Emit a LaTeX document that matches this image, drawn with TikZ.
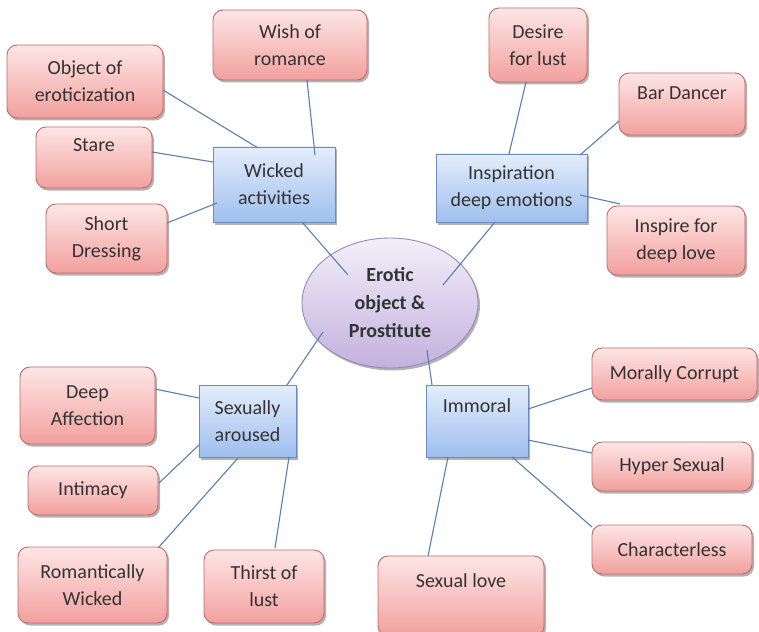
\documentclass[tikz,border=0pt]{standalone}
\usepackage{fontspec}
\setmainfont{Carlito}
\usetikzlibrary{shapes.geometric,shadows,calc}

\definecolor{pinktop}{HTML}{FDE6E5}
\definecolor{pinkbot}{HTML}{F2A09E}
\definecolor{pinkline}{HTML}{C26A68}
\definecolor{bluetop}{HTML}{E4EDFB}
\definecolor{bluebot}{HTML}{9EBFEF}
\definecolor{blueline}{HTML}{6A8CC0}
\definecolor{lavtop}{HTML}{F3EFF9}
\definecolor{lavbot}{HTML}{C3B1DE}
\definecolor{lavline}{HTML}{9A87BE}
\definecolor{linkc}{HTML}{5B7FAE}
\definecolor{txt}{HTML}{333333}

\tikzset{
  base/.style={draw, line width=0.9pt, text=txt, align=center, inner sep=2pt,
    font=\fontsize{20}{27}\selectfont,
    drop shadow={shadow xshift=2pt, shadow yshift=-2.5pt, opacity=0.3, fill=black}},
  leaf/.style={base, rectangle, rounded corners=10pt, draw=pinkline,
    top color=pinktop, bottom color=pinkbot},
  hub/.style={base, rectangle, draw=blueline, top color=bluetop, bottom color=bluebot},
  core/.style={base, ellipse, draw=lavline, top color=lavtop, bottom color=lavbot,
    font=\bfseries\fontsize{20}{28}\selectfont},
  wh/.style 2 args={minimum width=#1pt, minimum height=#2pt},
  topline/.style={text height=14pt, text depth=#1pt},
  link/.style={draw=linkc, line width=1.1pt},
}

\begin{document}
\begin{tikzpicture}[x=1pt, y=-1pt]
  \useasboundingbox (0,0) rectangle (759,631);
  \fill[white] (0,0) rectangle (759,631);

  % central ellipse
  \node[core, wh={176}{130}] (core) at (390,303) {Erotic\\object \&\\Prostitute};

  % hubs
  \node[hub, wh={122}{75}] (wick) at (274,184.5) {Wicked\\activities};
  \node[hub, wh={151}{68}] (insp) at (511.5,188) {Inspiration\\deep emotions};
  \node[hub, wh={97}{72}]  (sex)  at (247.5,421) {Sexually\\aroused};
  \node[hub, wh={102}{72}, topline=31] (immo) at (477,421) {Immoral};

  % leaves
  \node[leaf, wh={154}{70}] (wish)    at (290,45)     {Wish of\\romance};
  \node[leaf, wh={156}{73}] (obj)     at (85,81.5)    {Object of\\eroticization};
  \node[leaf, wh={116}{61}, topline=25] (stare) at (94,157.5) {Stare};
  \node[leaf, wh={121}{69}] (short)   at (106.5,238.5) {Short\\Dressing};
  \node[leaf, wh={98}{74}]  (desire)  at (538,45)     {Desire\\for lust};
  \node[leaf, wh={126}{62}, topline=23] (bar) at (682,104) {Bar Dancer};
  \node[leaf, wh={138}{69}] (inspire) at (676,240.5)  {Inspire for\\deep love};
  \node[leaf, wh={135}{77}] (deep)    at (87.5,405.5) {Deep\\Affection};
  \node[leaf, wh={130}{49}] (intim)   at (93,490.5)   {Intimacy};
  \node[leaf, wh={149}{76}] (roman)   at (92.5,585)   {Romantically\\Wicked};
  \node[leaf, wh={120}{73}] (thirst)  at (264,586.5)  {Thirst of\\lust};
  \node[leaf, wh={166}{80}, topline=31] (slove) at (461,596) {Sexual love};
  \node[leaf, wh={165}{52}] (moral)   at (674.5,374)  {Morally Corrupt};
  \node[leaf, wh={160}{49}] (hyper)   at (672,466.5)  {Hyper Sexual};
  \node[leaf, wh={160}{49}] (charl)   at (672,549.5)  {Characterless};

  % connectors
  \draw[link] ($(obj)+(78,8.5)$)      -- ($(wick)+(-16,-36.5)$);
  \draw[link] ($(wish)+(17,35)$)      -- ($(wick)+(41,-29.5)$);
  \draw[link] ($(stare)+(58,-5.5)$)   -- ($(wick)+(-61,-22.5)$);
  \draw[link] ($(short)+(60.5,-15.5)$) -- ($(wick)+(-57,18.5)$);
  \draw[link] ($(wick)+(28,37.5)$)    -- ($(core)+(-42,-28)$);

  \draw[link] ($(desire)+(-12,37)$)   -- ($(insp)+(-2.5,-34)$);
  \draw[link] ($(bar)+(-63,17)$)      -- ($(insp)+(68.5,-33)$);
  \draw[link] ($(inspire)+(-56,-36.5)$) -- ($(insp)+(68.5,7)$);
  \draw[link] ($(insp)+(-16.5,34)$)   -- ($(core)+(53,-18)$);

  \draw[link] ($(sex)+(39.5,-36)$)    -- ($(core)+(-67,29)$);
  \draw[link] ($(deep)+(67.5,-16.5)$) -- ($(sex)+(-48.5,-23)$);
  \draw[link] ($(intim)+(66,-7.5)$)   -- ($(sex)+(-48.5,24)$);
  \draw[link] ($(roman)+(66.5,-38)$)  -- ($(sex)+(-9.5,37)$);
  \draw[link] ($(thirst)+(11,-38.5)$) -- ($(sex)+(41.5,36)$);

  \draw[link] ($(immo)+(-45,-36)$)    -- ($(core)+(37,47)$);
  \draw[link] ($(moral)+(-82.5,14)$)  -- ($(immo)+(51,-12)$);
  \draw[link] ($(hyper)+(-80,-13.5)$) -- ($(immo)+(51,19)$);
  \draw[link] ($(charl)+(-80,-22.5)$) -- ($(immo)+(35,36)$);
  \draw[link] ($(slove)+(-33,-40)$)   -- ($(immo)+(-29,36)$);
\end{tikzpicture}
\end{document}
